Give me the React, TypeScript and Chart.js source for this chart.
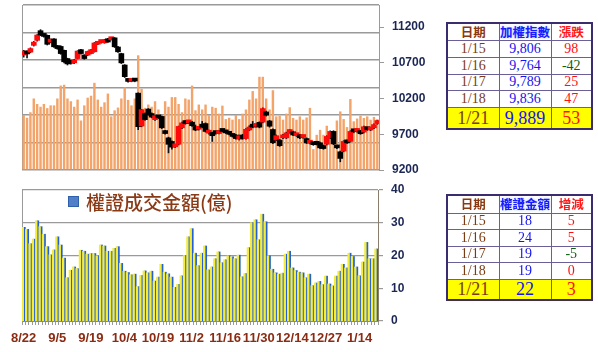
import React, { useEffect, useRef } from 'react';
import { Chart, registerables } from 'chart.js';
Chart.register(...registerables);

// ---- categories (trading days) ----
const dates = [
  '8/22','8/23','8/24','8/27','8/28','8/29','8/30','8/31',
  '9/3','9/4','9/5','9/6','9/7','9/10','9/11','9/12','9/13','9/14','9/17','9/18','9/19','9/20','9/21','9/25','9/26','9/27','9/28',
  '10/1','10/2','10/3','10/4','10/5','10/8','10/9','10/11','10/12','10/15','10/16','10/17','10/18','10/19','10/22','10/23','10/24','10/25','10/26','10/29','10/30','10/31',
  '11/1','11/2','11/5','11/6','11/7','11/8','11/9','11/12','11/13','11/14','11/15','11/16','11/19','11/20','11/21','11/22','11/23','11/26','11/27','11/28','11/29','11/30',
  '12/3','12/4','12/5','12/6','12/7','12/10','12/11','12/12','12/13','12/14','12/17','12/18','12/19','12/20','12/21','12/22','12/24','12/25','12/26','12/27','12/28',
  '1/2','1/3','1/4','1/7','1/8','1/9','1/10','1/11','1/14','1/15','1/16','1/17','1/18','1/21'
];

// ---- TAIEX OHLC ----
const opens = [
  10810,10855,10850,10945,11015,11150,11095,11085,10990,11035,
  10935,10930,10875,10760,10710,10700,10760,10885,10810,10808,
  10830,10855,10960,10985,10980,11038,11024,11050,10922,10830,
  10670,10468,10442,10455,10276,9815,9990,10053,9990,9905,
  9955,9950,9745,9650,9600,9525,9560,9790,9870,9860,
  9870,9810,9770,9810,9850,9715,9725,9715,9710,9745,
  9735,9720,9700,9690,9630,9690,9640,9760,9840,9810,
  9867,9870,10013,9887,9767,9620,9620,9650,9650,9725,
  9735,9680,9690,9655,9640,9575,9560,9565,9580,9540,
  9560,9650,9740,9525,9455,9465,9605,9600,9740,9740,
  9745,9730,9790,9760,9790,9850
];
const closes = [
  10865,10825,10900,10990,11090,11090,11070,10960,11025,10925,
  10900,10830,10715,10685,10695,10740,10865,10830,10760,10860,
  10885,10978,10992,11000,11022,10992,11052,10925,10855,10700,
  10507,10440,10458,10445,9806,10045,9905,9975,9940,9960,
  9930,9790,9710,9560,9520,9535,9810,9860,9850,9880,
  9820,9760,9790,9800,9740,9750,9680,9710,9740,9740,
  9720,9700,9670,9640,9680,9640,9770,9800,9800,9830,
  9800,10060,9967,9813,9582,9680,9540,9690,9720,9757,
  9690,9700,9650,9675,9580,9590,9555,9560,9510,9500,
  9670,9740,9565,9510,9362,9600,9580,9740,9735,9765,
  9708,9806,9764,9789,9836,9889
];
const highs = [
  10875,10870,10910,11000,11095,11165,11105,11090,11035,11040,
  10945,10940,10880,10765,10720,10750,10870,10890,10815,10865,
  10890,10985,11000,11010,11030,11045,11058,11055,10930,10835,
  10675,10480,10470,10465,10280,10050,10000,10060,10000,9970,
  9965,9955,9755,9660,9610,9545,9815,9870,9890,9895,
  9880,9830,9800,9880,9860,9760,9730,9730,9750,9760,
  9745,9730,9710,9700,9690,9700,9780,9820,9880,9840,
  9875,10070,10025,9895,9775,9690,9630,9700,9730,9765,
  9745,9710,9700,9685,9650,9600,9570,9575,9590,9550,
  9680,9750,9750,9540,9465,9610,9620,9750,9755,9775,
  9755,9815,9800,9800,9845,9895
];
const lows = [
  10780,10770,10840,10935,11005,11080,11060,10950,10980,10915,
  10890,10820,10700,10670,10680,10690,10755,10820,10750,10800,
  10825,10850,10955,10975,10975,10985,11020,10915,10845,10690,
  10495,10430,10435,10435,9765,9805,9895,9965,9930,9895,
  9920,9780,9700,9440,9490,9515,9550,9780,9840,9850,
  9810,9750,9760,9790,9730,9700,9600,9700,9705,9730,
  9710,9690,9660,9630,9620,9630,9630,9750,9790,9800,
  9790,9860,9955,9800,9570,9610,9530,9640,9640,9715,
  9680,9670,9640,9645,9570,9565,9545,9550,9500,9490,
  9550,9640,9555,9500,9315,9455,9570,9590,9720,9730,
  9700,9720,9755,9750,9780,9840
];

// ---- market turnover (億) ----
const volume = [
  1000,950,1050,1300,1200,1150,1200,1125,1175,1175,
  1300,1535,1550,1300,1250,1150,1280,900,1175,1315,
  1350,1585,1280,1150,1230,1390,975,1085,1135,1300,
  1500,1275,1175,1300,2085,1475,1130,1190,1150,1250,
  1100,1000,1250,1150,1325,1325,1200,1050,1300,1280,
  1535,1085,1190,1100,1190,1000,1150,1130,1025,1170,
  925,950,915,1000,925,1025,1100,1280,1435,1300,
  1695,1695,1300,1100,1450,975,985,915,1025,1140,
  945,915,975,915,955,1130,380,640,730,640,
  805,685,670,900,1065,925,780,1290,885,935,
  990,945,975,915,965,925
];

// ---- warrant turnover (億) ----
const warrant = [
  28.6,28,23.6,25,30.6,28.8,26.5,22.7,20.2,21.7,
  25.7,23.2,19.2,13.2,15.5,16.5,16,21.6,21.3,20.4,
  20.6,20.6,19.9,23.2,22.9,21.3,21.3,22.2,22.7,17.6,
  15.2,14.8,14.1,14.3,10.5,13.9,15.3,14.7,15.2,12.2,
  13.4,17.3,14.9,14.4,13.4,10.3,11.2,13.8,20,25.7,
  28.2,20.7,16.9,20.7,22.9,15.6,16.5,19,21.1,17.8,
  18.7,19.9,19.6,19,20.1,13.5,14.5,22.4,30,30.9,
  24.8,32.6,30.3,19.9,15.8,14.7,14.3,14.6,20.4,21.3,
  16.2,15.4,14.9,14.7,13.2,14.3,10.8,11.6,12.1,11.1,
  13.7,11.3,10.7,13.7,15.2,17.3,16.2,20.7,19.7,16.5,
  13.8,18,24,19,19,22
];

const priceTicks = [9200, 9700, 10200, 10700, 11200];
const warrantTicks = [0, 10, 20, 30, 40];

// ---- tables ----
const tblDates = ['1/15', '1/16', '1/17', '1/18', '1/21'];
const tblIndex = ['9,806', '9,764', '9,789', '9,836', '9,889'];
const tblIndexChg = ['98', '-42', '25', '47', '53'];
const tblWarrant = ['18', '24', '19', '19', '22'];
const tblWarrantChg = ['5', '5', '-5', '0', '3'];

const AXIS_COLOR = '#1b2654';
const AXIS_FONT = { family: "'Liberation Sans', Arial, sans-serif", size: 12, weight: 'bold' as const };
const XLBL_COLOR = '#8a2b12';
const GRID = '#9a9a9a';

const noPad = (s: any) => {
  s.paddingTop = 0;
  s.paddingBottom = 0;
  s.paddingLeft = 0;
  s.paddingRight = 0;
};

function TopChart() {
  const ref = useRef<HTMLCanvasElement>(null);
  useEffect(() => {
    const up = closes.map((c, i) => c >= opens[i]);
    const chart = new Chart(ref.current!, {
      type: 'bar',
      data: {
        labels: dates,
        datasets: [
          {
            label: 'body',
            data: opens.map((o, i) => [o, closes[i]]) as any,
            yAxisID: 'yP',
            backgroundColor: up.map(u => (u ? '#ff0a0a' : '#000000')),
            barThickness: 5,
            minBarLength: 3,
            grouped: false,
            order: 0,
          },
          {
            label: 'wick',
            data: lows.map((l, i) => [l, highs[i]]) as any,
            yAxisID: 'yP',
            backgroundColor: '#111111',
            barThickness: 1,
            grouped: false,
            order: 1,
          },
          {
            label: 'vol',
            data: volume,
            yAxisID: 'yV',
            backgroundColor: '#f2a46a',
            barPercentage: 0.72,
            categoryPercentage: 1,
            grouped: false,
            order: 2,
          },
        ],
      },
      options: {
        animation: false,
        responsive: false,
        devicePixelRatio: 1,
        layout: { padding: { top: 5, bottom: 10, left: 0, right: 0 } },
        plugins: { legend: { display: false }, tooltip: { enabled: false } },
        scales: {
          x: { display: false, offset: true },
          yV: {
            position: 'left',
            min: 0,
            max: 3000,
            ticks: { display: false, stepSize: 500 },
            grid: { color: GRID, lineWidth: 1.5, drawTicks: false },
            border: { display: true, color: GRID },
            afterFit: (s: any) => { s.width = 22; noPad(s); },
          },
          yP: {
            position: 'right',
            min: 9200,
            max: 11510,
            afterBuildTicks: (s: any) => { s.ticks = priceTicks.map(v => ({ value: v })); },
            ticks: { color: AXIS_COLOR, font: AXIS_FONT, padding: 8, callback: (v: any) => String(v) },
            grid: { drawOnChartArea: false, tickLength: 5, color: GRID },
            border: { display: true, color: GRID },
            afterFit: (s: any) => { s.width = 61; noPad(s); },
          },
        },
      } as any,
    });
    return () => chart.destroy();
  }, []);
  return (
    <canvas ref={ref} width={440} height={180}
      style={{ position: 'absolute', left: 0, top: 0, width: 440, height: 180 }} />
  );
}

function BottomChart() {
  const ref = useRef<HTMLCanvasElement>(null);
  useEffect(() => {
    const chart = new Chart(ref.current!, {
      type: 'bar',
      data: {
        labels: dates,
        datasets: [
          { label: 'shadow', data: warrant, backgroundColor: '#f4ec3c', barPercentage: 1, categoryPercentage: 1 },
          { label: '權證成交金額(億)', data: warrant, backgroundColor: '#2360d6', barPercentage: 1, categoryPercentage: 1 },
        ],
      },
      options: {
        animation: false,
        responsive: false,
        devicePixelRatio: 1,
        layout: { padding: { top: 8, bottom: 0, left: 0, right: 0 } },
        plugins: { legend: { display: false }, tooltip: { enabled: false } },
        scales: {
          x: {
            offset: true,
            grid: { drawOnChartArea: false, tickLength: 4, color: GRID, offset: true },
            border: { display: true, color: '#8a8a8a' },
            ticks: {
              autoSkip: false,
              maxRotation: 0,
              minRotation: 0,
              padding: 6,
              color: XLBL_COLOR,
              font: { family: "'Liberation Sans', Arial, sans-serif", size: 13, weight: 'bold' },
              callback: (_v: any, i: number) => (i % 10 === 0 ? dates[i] : ''),
            },
            afterFit: (s: any) => { s.height = 31; noPad(s); },
          },
          yL: {
            position: 'left',
            min: 0,
            max: 40,
            ticks: { display: false },
            grid: { display: false },
            border: { display: true, color: GRID },
            afterFit: (s: any) => { s.width = 22; noPad(s); },
          },
          y: {
            position: 'right',
            min: 0,
            max: 40,
            afterBuildTicks: (s: any) => { s.ticks = warrantTicks.map(v => ({ value: v })); },
            ticks: { color: AXIS_COLOR, font: AXIS_FONT, padding: 8 },
            grid: { color: GRID, lineWidth: 1.2, tickLength: 5 },
            border: { display: true, color: '#8b7d6b' },
            afterFit: (s: any) => { s.width = 62; noPad(s); },
          },
        },
      } as any,
    });
    return () => chart.destroy();
  }, []);
  return (
    <canvas ref={ref} width={440} height={170}
      style={{ position: 'absolute', left: 0, top: 182, width: 440, height: 170 }} />
  );
}

const CJK = "'Noto Sans CJK TC', 'Noto Sans', sans-serif";
const SERIF = "'Liberation Serif', 'Times New Roman', serif";

function DataTable(props: {
  top: number;
  heads: string[];
  col1: string[];
  col2: string[];
  col3: string[];
  rowH: number[];
}) {
  const { top, heads, col1, col2, col3, rowH } = props;
  const cell: React.CSSProperties = {
    border: '1px solid #6a5f96',
    padding: 0,
    textAlign: 'center',
    verticalAlign: 'middle',
    lineHeight: 1,
    overflow: 'hidden',
  };
  const headColors = ['#8a3a12', '#1a1aff', '#ff1a1a'];
  const n = col1.length;
  return (
    <table
      style={{
        position: 'absolute',
        left: 446,
        top,
        width: 145,
        borderCollapse: 'collapse',
        tableLayout: 'fixed',
        border: '2px solid #3a2c6e',
        background: '#ffffff',
      }}
    >
      <colgroup>
        <col style={{ width: 52 }} />
        <col style={{ width: 52 }} />
        <col style={{ width: 41 }} />
      </colgroup>
      <tbody>
        <tr style={{ height: rowH[0] }}>
          {heads.map((h, k) => (
            <td
              key={k}
              style={{
                ...cell,
                fontFamily: CJK,
                fontWeight: 'bold',
                fontSize: 12.5,
                color: headColors[k],
                textShadow: k === 1 ? '0 0 3px #a9c4ff' : 'none',
              }}
            >
              {h}
            </td>
          ))}
        </tr>
        {col1.map((d, r) => {
          const last = r === n - 1;
          const fs = last ? 18 : 14;
          const chg = col3[r];
          const chgColor = chg.startsWith('-') ? '#106010' : '#ff1010';
          return (
            <tr key={r} style={{ height: rowH[r + 1], background: last ? '#ffff00' : '#ffffff' }}>
              <td style={{ ...cell, fontFamily: SERIF, fontSize: fs, color: '#7a3a12' }}>{d}</td>
              <td style={{ ...cell, fontFamily: SERIF, fontSize: fs, color: '#1414f0' }}>{col2[r]}</td>
              <td style={{ ...cell, fontFamily: SERIF, fontSize: fs, color: chgColor }}>{chg}</td>
            </tr>
          );
        })}
      </tbody>
    </table>
  );
}

export default function App() {
  return (
    <div
      style={{
        position: 'fixed',
        left: 0,
        top: 0,
        width: 598,
        height: 352,
        background: '#ffffff',
        overflow: 'hidden',
      }}
    >
      <TopChart />
      <BottomChart />
      <div
        style={{
          position: 'absolute',
          left: 68,
          top: 191,
          height: 21,
          display: 'flex',
          alignItems: 'center',
          fontFamily: CJK,
          fontSize: 19,
          fontWeight: 500,
          color: '#8b3a16',
          whiteSpace: 'nowrap',
          lineHeight: '21px',
        }}
      >
        <span
          style={{
            display: 'inline-block',
            width: 9,
            height: 9,
            background: '#4f7fc8',
            border: '1px solid #2f5fa8',
            marginRight: 7,
          }}
        />
        <span>權證成交金額(億)</span>
      </div>
      <DataTable
        top={22}
        heads={['日期', '加權指數', '漲跌']}
        col1={tblDates}
        col2={tblIndex}
        col3={tblIndexChg}
        rowH={[17, 17, 17, 16, 17, 22]}
      />
      <DataTable
        top={194}
        heads={['日期', '權證金額', '增減']}
        col1={tblDates}
        col2={tblWarrant}
        col3={tblWarrantChg}
        rowH={[18, 16, 17, 16, 17, 21]}
      />
    </div>
  );
}
